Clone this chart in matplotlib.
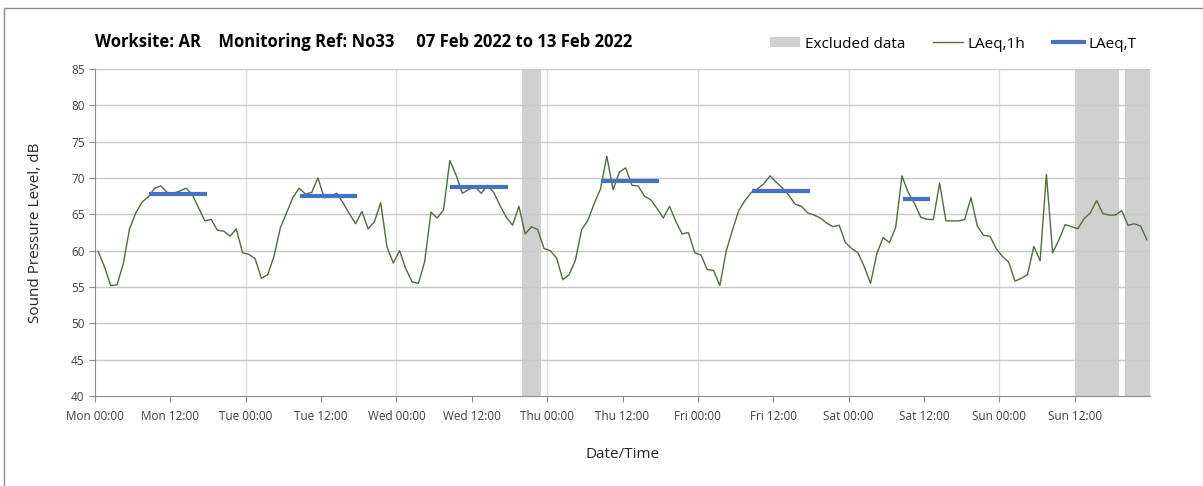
import numpy as np
import matplotlib.pyplot as plt
from matplotlib.patches import Patch, Rectangle
from matplotlib.lines import Line2D

plt.rcParams['font.family'] = ['Open Sans', 'DejaVu Sans']

#%% Data
# hourly LAeq,1h values, Mon 00:00 .. Sun 23:00 (plotted at mid-hour)
laeq_1h = [
    59.9, 57.8, 55.2, 55.3, 58.2, 63.0, 65.2, 66.7, 67.4, 68.6, 68.9, 68.0,
    67.9, 68.2, 68.6, 67.7, 65.9, 64.1, 64.3, 62.8, 62.7, 62.0, 63.0, 59.7,
    59.5, 58.9, 56.2, 56.7, 59.2, 63.1, 65.2, 67.3, 68.6, 67.8, 68.0, 70.0,
    67.3, 67.5, 67.9, 66.6, 65.1, 63.7, 65.4, 63.0, 64.0, 66.6, 60.5, 58.3,
    60.0, 57.5, 55.7, 55.5, 58.5, 65.3, 64.5, 65.6, 72.4, 70.4, 67.9, 68.4,
    68.8, 67.9, 69.0, 68.0, 66.2, 64.6, 63.5, 66.1, 62.3, 63.3, 62.9, 60.3,
    60.0, 59.0, 56.0, 56.7, 58.7, 62.9, 64.2, 66.5, 68.5, 73.0, 68.4, 70.8,
    71.4, 69.0, 68.9, 67.5, 67.0, 65.8, 64.5, 66.1, 64.0, 62.3, 62.5, 59.7,
    59.4, 57.4, 57.3, 55.2, 59.9, 62.8, 65.5, 66.9, 68.0, 68.5, 69.2, 70.3,
    69.4, 68.6, 67.6, 66.4, 66.1, 65.2, 64.9, 64.5, 63.8, 63.3, 63.5, 61.1,
    60.3, 59.7, 57.8, 55.5, 59.6, 61.8, 61.1, 63.2, 70.3, 68.0, 66.5, 64.6,
    64.3, 64.3, 69.3, 64.1, 64.1, 64.1, 64.3, 67.3, 63.4, 62.1, 62.0, 60.3,
    59.2, 58.4, 55.8, 56.2, 56.7, 60.6, 58.6, 70.5, 59.7, 61.5, 63.6, 63.3,
    63.0, 64.4, 65.2, 66.9, 65.1, 64.9, 64.9, 65.5, 63.5, 63.7, 63.4, 61.5,
]
hours = np.arange(len(laeq_1h)) + 0.5

# LAeq,T day periods (hours from Mon 00:00)
laeq_t_start = [8.6, 32.6, 56.6, 80.6, 104.6, 128.6]
laeq_t_end = [17.8, 41.8, 65.8, 89.8, 113.8, 132.9]
laeq_t_level = [67.8, 67.5, 68.8, 69.6, 68.2, 67.1]

# excluded data periods (hours)
excl_start = [68, 156, 164]
excl_end = [71, 163, 168]

days = ['Mon', 'Tue', 'Wed', 'Thu', 'Fri', 'Sat', 'Sun']
tick_labels = [d + t for d in days for t in [' 00:00', ' 12:00']]

#%% Plot
fig = plt.figure(figsize=(12.03, 4.86), dpi=100)
ax = fig.add_axes([95/1203, 1-396/486, 1055/1203, 327/486])

fig.patches.append(Rectangle((4/1203, -0.1), 1.2, 1-8/486+0.1, transform=fig.transFigure,
                             fill=False, edgecolor='#8c8c8c', lw=1))

for s, e in zip(excl_start, excl_end):
    ax.axvspan(s, e, color='#d0d0d0', lw=0, zorder=0)
for y in range(45, 90, 5):
    ax.axhline(y, color='#c9c9c9', lw=1, zorder=1)
for x in range(24, 168, 24):
    ax.axvline(x, color='#dcdcdc', lw=1, zorder=0.5)

ax.plot(hours, laeq_1h, color='#4f6e3b', lw=1, zorder=3)
for s, e, lv in zip(laeq_t_start, laeq_t_end, laeq_t_level):
    ax.plot([s, e], [lv, lv], color='#4472c4', lw=3, zorder=4, solid_capstyle='butt')

ax.set_xlim(0, 168)
ax.set_ylim(40, 85)
ax.set_xticks(np.arange(0, 168, 12))
ax.set_xticklabels(tick_labels, fontsize=8.5)
ax.set_yticks(np.arange(40, 90, 5))
ax.tick_params(axis='y', labelsize=8.5, length=4, color='#8c8c8c', labelcolor='#404040')
ax.tick_params(axis='x', length=4, color='#8c8c8c', labelcolor='#404040', pad=6)
for sp in ['top', 'right']:
    ax.spines[sp].set_visible(False)
for sp in ['left', 'bottom']:
    ax.spines[sp].set_color('#8c8c8c')

ax.set_ylabel('Sound Pressure Level, dB', fontsize=11, color='#262626', labelpad=20)
ax.set_xlabel('Date/Time', fontsize=11, color='#262626', labelpad=17)

fig.text(95/1203, 1-42/486, 'Worksite: AR    Monitoring Ref: No33     07 Feb 2022 to 13 Feb 2022',
         fontsize=12, fontweight='bold', va='center', ha='left')

handles = [Patch(facecolor='#d0d0d0', edgecolor='none'),
           Line2D([], [], color='#4f6e3b', lw=1),
           Line2D([], [], color='#4472c4', lw=3)]
fig.legend(handles, ['Excluded data', 'LAeq,1h', 'LAeq,T'], loc='center right',
           bbox_to_anchor=(1150/1203, 1-44/486), ncol=3, frameon=False, fontsize=11,
           handlelength=2.0, handletextpad=0.3, columnspacing=1.8)

plt.savefig('out.png', dpi=100)
